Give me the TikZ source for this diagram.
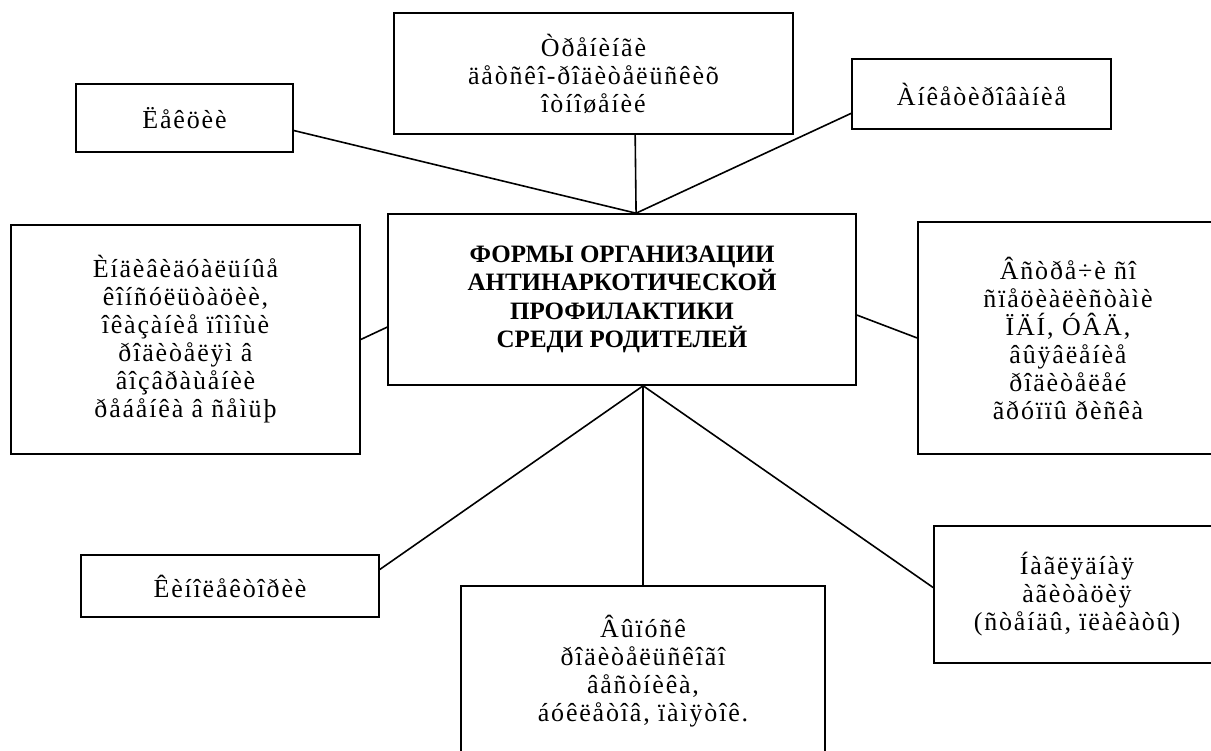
\documentclass[tikz,border=0pt]{standalone}
\usepackage{fontspec}
\setmainfont{Liberation Serif}
\newfontfamily\boxfont[LetterSpace=7]{Liberation Serif}
\usetikzlibrary{calc}

\begin{document}
\begin{tikzpicture}[x=1pt,y=-1pt,
  box/.style={draw,line width=1.6pt,inner sep=0pt,align=center,
    font=\boxfont\fontsize{26}{28}\selectfont},
  link/.style={line width=1.6pt}]

% Page frame
\useasboundingbox (0,0) rectangle (1211,751);
\clip (0,0) rectangle (1211,751);

% Central box
\node[box, minimum width=468pt, minimum height=171pt,
  font=\bfseries\fontsize{25}{28.5}\selectfont] (form) at (622,299.5)
  {ФОРМЫ ОРГАНИЗАЦИИ\\АНТИНАРКОТИЧЕСКОЙ\\ПРОФИЛАКТИКИ\\СРЕДИ РОДИТЕЛЕЙ};

% Upper row
\node[box, minimum width=217pt, minimum height=68pt] (lect) at (184.5,118) {Ëåêöèè};
\node[box, minimum width=399pt, minimum height=121pt] (train) at (593.5,73.5)
  {Òðåíèíãè\\äåòñêî-ðîäèòåëüñêèõ\\îòíîøåíèé};
\node[box, minimum width=259pt, minimum height=70pt] (quest) at (981.5,94) {Àíêåòèðîâàíèå};

% Middle row
\node[box, minimum width=349pt, minimum height=229pt] (indiv) at (185.5,339.5)
  {Èíäèâèäóàëüíûå\\êîíñóëüòàöèè,\\îêàçàíèå ïîìîùè\\ðîäèòåëÿì â\\âîçâðàùåíèè\\ðåáåíêà â ñåìüþ};
\node[box, minimum width=300pt, minimum height=232pt] (meet) at (1068,338)
  {Âñòðå÷è ñî\\ñïåöèàëèñòàìè\\ÏÄÍ, ÓÂÄ,\\âûÿâëåíèå\\ðîäèòåëåé\\ãðóïïû ðèñêà};

% Lower row
\node[box, minimum width=298pt, minimum height=62pt] (kino) at (230,586) {Êèíîëåêòîðèè};
\node[box, minimum width=364pt, minimum height=180pt] (vyp) at (643,676)
  {Âûïóñê\\ðîäèòåëüñêîãî\\âåñòíèêà,\\áóêëåòîâ, ïàìÿòîê.\\[-12pt]};
\node[box, minimum width=286pt, minimum height=137pt] (nagl) at (1077,594.5)
  {Íàãëÿäíàÿ\\àãèòàöèÿ\\(ñòåíäû, ïëàêàòû)};

% Hubs on the central box
\coordinate (hubtop) at ($(form.north west)!0.53!(form.north east)$);
\coordinate (hubbot) at ($(form.south west)!0.545!(form.south east)$);

% Connectors
\draw[link] ($(lect.north east)!0.68!(lect.south east)$) -- (hubtop);
\draw[link] ($(train.south west)!0.604!(train.south east)$) -- (hubtop);
\draw[link] ($(quest.north west)!0.77!(quest.south west)$) -- (hubtop);
\draw[link] (indiv.east) -- ($(form.north west)!0.66!(form.south west)$);
\draw[link] ($(form.north east)!0.59!(form.south east)$) -- (meet.west);
\draw[link] (hubbot) -- ($(kino.north east)!0.24!(kino.south east)$);
\draw[link] (hubbot) -- (hubbot |- vyp.north);
\draw[link] (hubbot) -- ($(nagl.north west)!0.45!(nagl.south west)$);

\end{tikzpicture}
\end{document}
